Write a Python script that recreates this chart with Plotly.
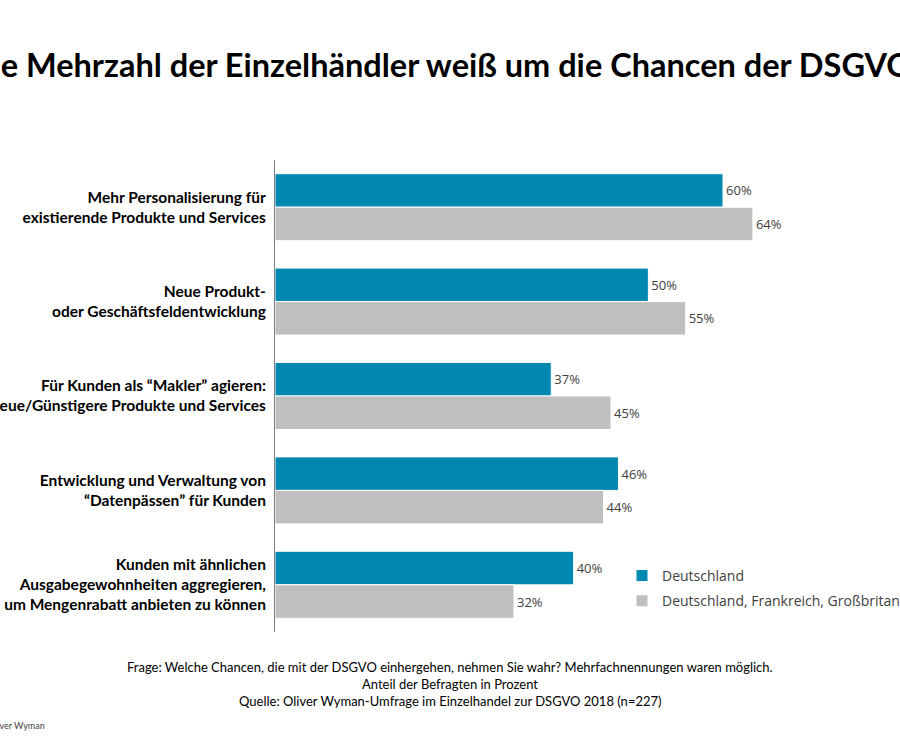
import plotly.graph_objects as go

categories = [
    "Mehr Personalisierung für<br>existierende Produkte und Services",
    "Neue Produkt-<br>oder Geschäftsfeldentwicklung",
    "Für Kunden als “Makler” agieren:<br>Neue/Günstigere Produkte und Services",
    "Entwicklung und Verwaltung von<br>“Datenpässen” für Kunden",
    "Kunden mit ähnlichen<br>Ausgabegewohnheiten aggregieren,<br>um Mengenrabatt anbieten zu können",
]
series_names = ["Deutschland", "Deutschland, Frankreich, Großbritannien"]
values_de = [60, 50, 37, 46, 40]
values_all = [64, 55, 45, 44, 32]

title = "Die Mehrzahl der Einzelhändler weiß um die Chancen der DSGVO"
footnotes = [
    "Frage: Welche Chancen, die mit der DSGVO einhergehen, nehmen Sie wahr? Mehrfachnennungen waren möglich.",
    "Anteil der Befragten in Prozent",
    "Quelle: Oliver Wyman-Umfrage im Einzelhandel zur DSGVO 2018 (n=227)",
]
credit = "Oliver Wyman"

BLUE = "#0088B0"
GRAY = "#BFBFBF"
FONT = "Lato"
FONT2 = "Open Sans"

fig = go.Figure()
for i, (name, vals, col) in enumerate([(series_names[0], values_de, BLUE),
                                       (series_names[1], values_all, GRAY)]):
    fig.add_trace(go.Bar(
        y=categories, x=vals, name=name, orientation="h", legendgroup=f"g{i}",
        marker=dict(color=col, line=dict(color="white", width=1)),
        text=[f"{v}%" for v in vals], textposition="outside",
        textfont=dict(family=FONT2, size=13, color="#404040"),
        cliponaxis=False,
    ))

fig.update_layout(
    width=900, height=750,
    margin=dict(l=275, r=0, t=160, b=118, autoexpand=False),
    paper_bgcolor="white", plot_bgcolor="white",
    barmode="group", bargap=0.29, bargroupgap=0.0,
    font=dict(family=FONT, color="#000000"),
    showlegend=True,
    legend=dict(x=(622 - 275) / 625, y=(632 - 560) / 472, xanchor="left", yanchor="top",
                font=dict(family=FONT2, size=14, color="#404040"),
                bgcolor="rgba(0,0,0,0)", tracegroupgap=4, traceorder="grouped"),
    xaxis=dict(range=[0, 83.7], showgrid=False, zeroline=False, showticklabels=False,
               showline=False, fixedrange=True),
    yaxis=dict(autorange="reversed", showgrid=False, zeroline=False,
               showline=True, linecolor="#7F7F7F", linewidth=1,
               ticks="", ticklabelstandoff=5, automargin=False, fixedrange=True,
               tickfont=dict(family=FONT, size=15.5, color="#000000", weight="bold")),
)

fig.add_annotation(text=f"<b>{title}</b>", xref="paper", yref="paper",
                   x=(440 - 275) / 625, y=(632 - 64) / 472, xanchor="center", yanchor="middle",
                   showarrow=False, font=dict(family=FONT, size=32.5, color="#000000"))

for i, line in enumerate(footnotes):
    fig.add_annotation(text=line, xref="paper", yref="paper",
                       x=(450 - 275) / 625, y=(632 - (667 + 17 * i)) / 472,
                       xanchor="center", yanchor="middle", showarrow=False,
                       font=dict(family=FONT, size=13, color="#000000"))

fig.add_annotation(text=credit, xref="paper", yref="paper",
                   x=(47 - 275) / 625, y=(632 - 725) / 472, xanchor="right", yanchor="middle",
                   showarrow=False, font=dict(family=FONT, size=9, color="#404040"))

fig.write_html("out.html", config={"displayModeBar": False},
               post_script="document.body.style.margin='0';")
